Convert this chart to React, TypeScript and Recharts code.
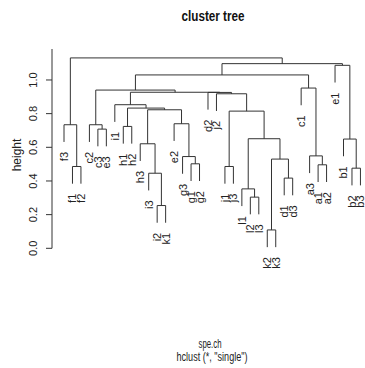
import React from 'react';
import { ComposedChart, Line, Scatter, XAxis, YAxis } from 'recharts';

// leaves in plotted order (left to right)
const leafLabels = ['f3','f1','f2','c2','c3','e3','i1','h1','h2','h3','i3','i2','k1','e2','g3','g1','g2','d2','j2','j1','j3','l1','l2','l3','k2','k3','d1','d3','c1','a3','a1','a2','e1','b1','b2','b3'];

// merge steps (R-style): a string is a leaf, a number refers to an earlier merge step
const mergeLeft: (string | number)[] = ['k2','i2','l2','l1','d1','i3','b2','f1','j1','a1','g1',0,'g3','a3','h3','b1',3,'c3','h1','f3','c2','e2',8,14,18,'i1','j2','d2',25,20,'c1',29,'e1',31,19];
const mergeRight: (string | number)[] = ['k3','k1','l3',2,'d3',1,'b3','f2','j3','a2','g2',4,10,9,5,6,11,'e3','h2',7,17,12,16,21,23,24,22,26,27,28,13,30,15,32,33];
const mergeHeights = [0.109,0.254,0.304,0.353,0.417,0.446,0.476,0.486,0.486,0.496,0.502,0.530,0.545,0.549,0.621,0.649,0.651,0.708,0.724,0.734,0.734,0.740,0.815,0.823,0.833,0.853,0.918,0.926,0.927,0.940,0.952,1.030,1.087,1.097,1.131];

const yTicks = [0, 0.2, 0.4, 0.6, 0.8, 1.0];

const hang = 0.1 * (Math.max(...mergeHeights) - Math.min(...mergeHeights));

type Pt = { x: number; y: number };
const nodeX: number[] = [];
const leafEnd: number[] = new Array(leafLabels.length).fill(0);
const segments: Pt[][] = [];

mergeHeights.forEach((h, i) => {
  const member = (m: string | number) => {
    if (typeof m === 'string') {
      const idx = leafLabels.indexOf(m);
      leafEnd[idx] = h - hang;
      return { x: idx, bottom: h - hang };
    }
    return { x: nodeX[m], bottom: mergeHeights[m] };
  };
  const a = member(mergeLeft[i]);
  const b = member(mergeRight[i]);
  nodeX[i] = (a.x + b.x) / 2;
  segments.push([
    { x: a.x, y: a.bottom },
    { x: a.x, y: h },
    { x: b.x, y: h },
    { x: b.x, y: b.bottom },
  ]);
});

const leafData = leafLabels.map((name, i) => ({ x: i, y: leafEnd[i], name }));

const FONT = "'Liberation Sans', Arial, sans-serif";

const YTick = (props: any) => {
  const { x, y, payload } = props;
  const px = x - 7;
  return (
    <text x={px} y={y} transform={`rotate(-90 ${px} ${y})`} textAnchor="middle" fontSize={11} fill="#222" fontFamily={FONT}>
      {Number(payload.value).toFixed(1)}
    </text>
  );
};

const LeafLabel = (props: any) => {
  const { cx, cy, payload } = props;
  const px = cx + 4;
  const py = cy + 10;
  return (
    <text x={px} y={py} transform={`rotate(-90 ${px} ${py})`} textAnchor="end" fontSize={11} fill="#222" fontFamily={FONT}>
      {payload.name}
    </text>
  );
};

export default function App() {
  return (
    <div style={{ position: 'absolute', left: 0, top: 0, width: 365, height: 368, background: '#fff' }}>
      <ComposedChart width={365} height={368} margin={{ top: 49, right: 1, bottom: 119.7, left: 0 }}>
        <XAxis type="number" dataKey="x" domain={[-1.417, 35.42]} hide />
        <YAxis
          type="number"
          dataKey="y"
          domain={[0, 1.184]}
          ticks={yTicks}
          interval={0}
          width={52}
          tickSize={6}
          axisLine={{ stroke: '#333' }}
          tickLine={{ stroke: '#333' }}
          tick={<YTick />}
        />
        {segments.map((d, i) => (
          <Line
            key={i}
            data={d}
            dataKey="y"
            type="linear"
            stroke="#333"
            strokeWidth={1}
            dot={false}
            activeDot={false}
            isAnimationActive={false}
          />
        ))}
        <Scatter data={leafData} dataKey="y" shape={<LeafLabel />} isAnimationActive={false} />
      </ComposedChart>
      <svg width={365} height={368} style={{ position: 'absolute', left: 0, top: 0, pointerEvents: 'none' }}>
        <text x={213} y={21} textAnchor="middle" fontSize={15} fontWeight="bold" fill="#111" fontFamily={FONT} textLength={63} lengthAdjust="spacingAndGlyphs">cluster tree</text>
        <text x={21} y={155} transform="rotate(-90 21 155)" textAnchor="middle" fontSize={12} fill="#222" fontFamily={FONT}>height</text>
        <text x={210} y={348} textAnchor="middle" fontSize={12} fill="#222" fontFamily={FONT} textLength={23} lengthAdjust="spacingAndGlyphs">spe.ch</text>
        <text x={212} y={361} textAnchor="middle" fontSize={12} fill="#222" fontFamily={FONT} textLength={71} lengthAdjust="spacingAndGlyphs">hclust (*, "single")</text>
      </svg>
    </div>
  );
}
